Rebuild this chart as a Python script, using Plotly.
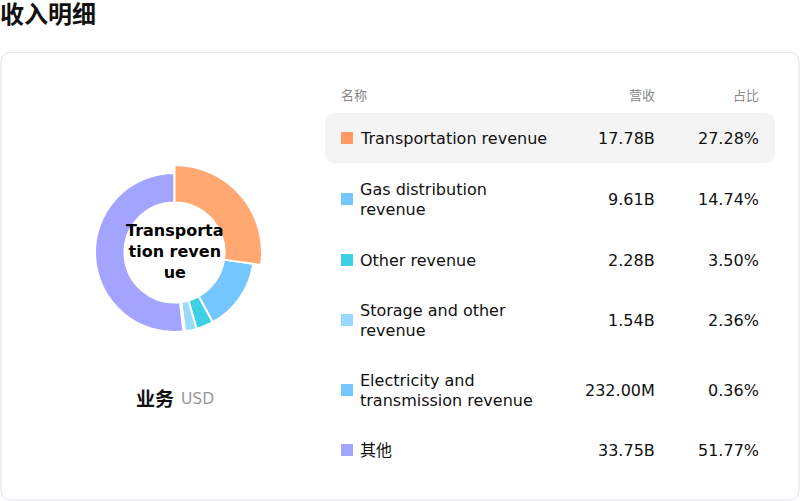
import plotly.graph_objects as go

# ---- data ----
categories = ["Transportation revenue", "Gas distribution revenue", "Other revenue",
              "Storage and other revenue", "Electricity and transmission revenue", "其他"]
display_lines = [["Transportation revenue"], ["Gas distribution", "revenue"], ["Other revenue"],
                 ["Storage and other", "revenue"], ["Electricity and", "transmission revenue"], ["其他"]]
revenue_b = [17.78, 9.61, 2.28, 1.54, 0.232, 33.75]
revenue_labels = ["17.78B", "9.61B", "2.28B", "1.54B", "232.00M", "33.75B"]
share_labels = ["27.28%", "14.74%", "3.50%", "2.36%", "0.36%", "51.77%"]
colors = ["#FF9A66", "#74C6FF", "#3DD0E4", "#98DAFB", "#74C6FF", "#A2A4FF"]
pie_colors = ["#FFA872", "#74C6FF", "#3DD0E4", "#98DAFB", "#74C6FF", "#A2A4FF"]
center_lines = ["Transporta", "tion reven", "ue"]

W, H = 800, 501
FONT = "DejaVu Sans, Noto Sans CJK SC, sans-serif"


def px(x):
    return x / W


def py(y):
    return 1 - y / H


def rounded_rect(x0, y0, x1, y1, r):
    pts = [
        f"M {px(x0 + r)},{py(y0)}",
        f"L {px(x1 - r)},{py(y0)}",
        f"Q {px(x1)},{py(y0)} {px(x1)},{py(y0 + r)}",
        f"L {px(x1)},{py(y1 - r)}",
        f"Q {px(x1)},{py(y1)} {px(x1 - r)},{py(y1)}",
        f"L {px(x0 + r)},{py(y1)}",
        f"Q {px(x0)},{py(y1)} {px(x0)},{py(y1 - r)}",
        f"L {px(x0)},{py(y0 + r)}",
        f"Q {px(x0)},{py(y0)} {px(x0 + r)},{py(y0)}",
        "Z",
    ]
    return " ".join(pts)


fig = go.Figure()

cx, cy = 174.5, 252.5
r_norm, r_big, r_in = 79.5, 87.5, 50.0

# normal ring
fig.add_trace(go.Pie(
    labels=categories, values=revenue_b, sort=False, direction="clockwise", rotation=0,
    hole=r_in / r_norm,
    marker=dict(colors=["rgba(0,0,0,0)"] + pie_colors[1:], line=dict(color="white", width=2)),
    textinfo="none", hoverinfo="label+percent", showlegend=False,
    domain=dict(x=[px(cx - r_norm), px(cx + r_norm)], y=[py(cy + r_norm), py(cy - r_norm)]),
))
# emphasised first slice (larger radius)
fig.add_trace(go.Pie(
    labels=categories, values=revenue_b, sort=False, direction="clockwise", rotation=0,
    hole=r_in / r_big,
    marker=dict(colors=[pie_colors[0]] + ["rgba(0,0,0,0)"] * 5,
                line=dict(color=["white"] + ["rgba(0,0,0,0)"] * 5, width=2)),
    textinfo="none", hoverinfo="label+percent", showlegend=False,
    domain=dict(x=[px(cx - r_big), px(cx + r_big)], y=[py(cy + r_big), py(cy - r_big)]),
))

shapes = []
annotations = []


def text(x, y, s, anchor, size, color, bold=False):
    t = f"<b>{s}</b>" if bold else s
    annotations.append(dict(x=px(x), y=py(y), xref="paper", yref="paper", xanchor=anchor,
                            yanchor="middle", text=t, showarrow=False, borderpad=0,
                            font=dict(family=FONT, size=size, color=color)))


# card
shapes.append(dict(type="path", xref="paper", yref="paper",
                   path=rounded_rect(1, 52.5, 799, 500, 10),
                   line=dict(color="#E2E1EC", width=1), fillcolor="white", layer="below"))
# highlight row
shapes.append(dict(type="path", xref="paper", yref="paper",
                   path=rounded_rect(325, 113, 775, 163, 10),
                   line=dict(width=0), fillcolor="#F4F4F4", layer="below"))

# title
text(-1, 15, "收入明细", "left", 24, "#111111", bold=True)

# headers
hdr_y = 95
for txt, x, anc in [("名称", 340, "left"), ("营收", 656, "right"), ("占比", 760, "right")]:
    text(x, hdr_y, txt, anc, 13, "#8A8A8A")

row_y = [138, 199, 260, 320, 390, 450]
for i, yy in enumerate(row_y):
    shapes.append(dict(type="rect", xref="paper", yref="paper",
                       x0=px(341), x1=px(353), y0=py(yy + 6), y1=py(yy - 6),
                       fillcolor=colors[i], line=dict(width=0)))
    lines = display_lines[i]
    n = len(lines)
    for k, ln in enumerate(lines):
        ly = yy + (k - (n - 1) / 2) * 19.5
        text(359, ly + 0.5, ln, "left", 16, "#111111")
    text(656, yy + 0.5, revenue_labels[i], "right", 16, "#111111")
    text(760, yy + 0.5, share_labels[i], "right", 16, "#111111")

# centre label
text(cx + 0.5, 251.5, "<br>".join(center_lines), "center", 16, "#000000", bold=True)

# bottom label
text(175, 399, "业务", "right", 19, "#111111", bold=True)
text(180, 399, "USD", "left", 15.5, "#999999")

fig.update_layout(
    width=W, height=H, margin=dict(l=0, r=0, t=0, b=0),
    paper_bgcolor="white", plot_bgcolor="white",
    shapes=shapes, annotations=annotations, showlegend=False,
)

fig.write_html("out.html", config={"displayModeBar": False},
               post_script="document.body.style.margin='0';document.body.style.overflow='hidden';")
